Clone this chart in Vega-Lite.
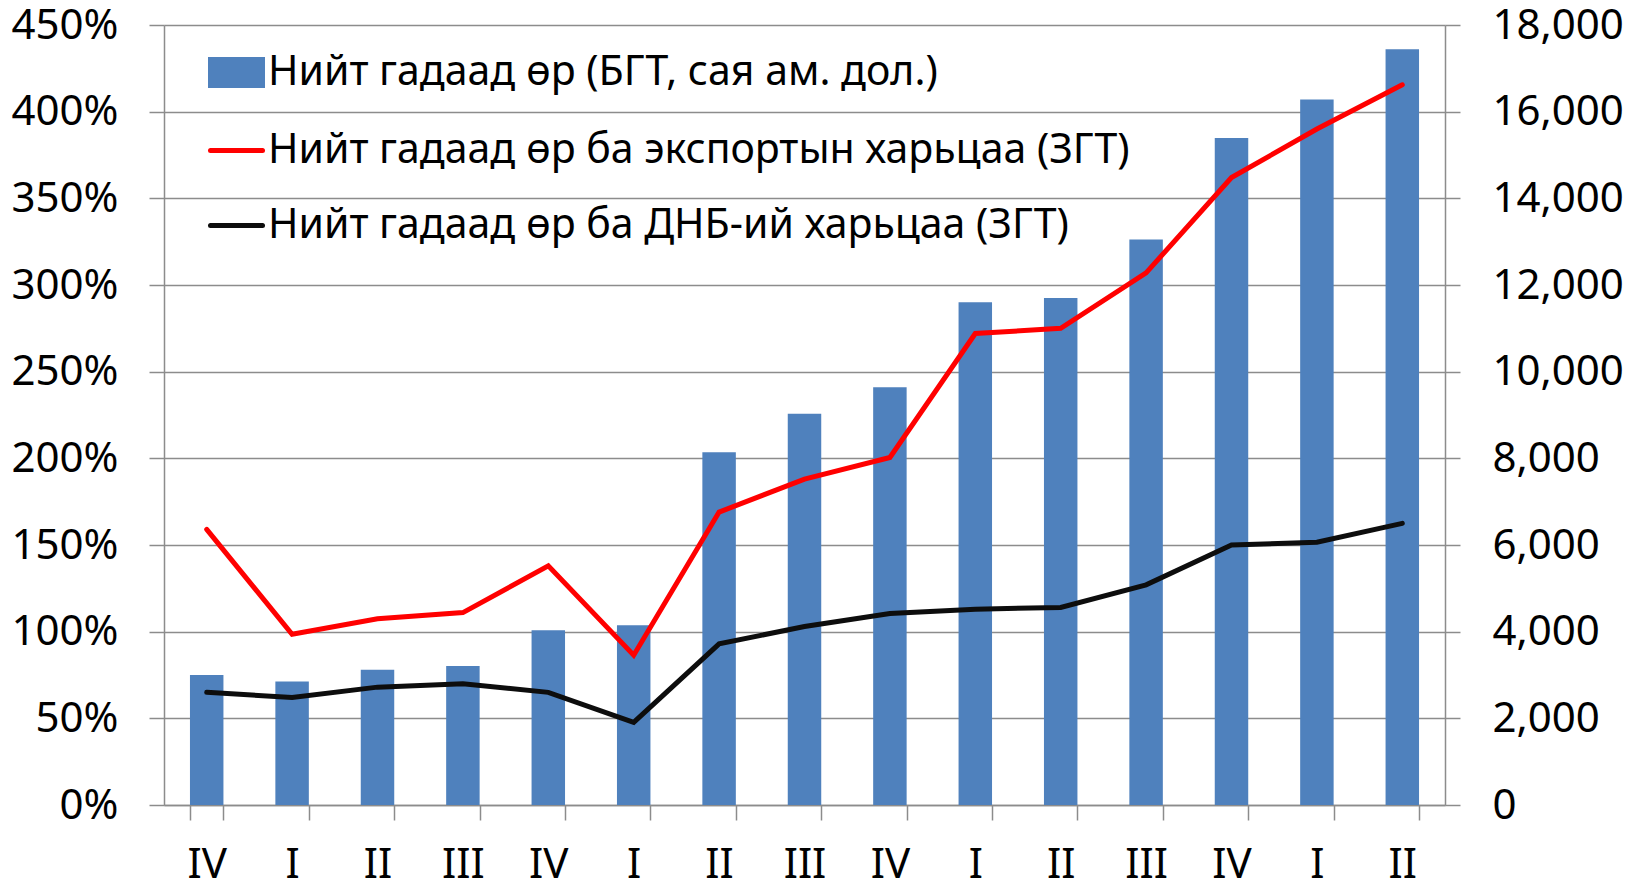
{
  "$schema": "https://vega.github.io/schema/vega-lite/v6.json",
  "width": 1281,
  "height": 780,
  "autosize": {"type": "none"},
  "padding": {"left": 164, "top": 25, "right": 195, "bottom": 82},
  "background": "white",
  "config": {
    "view": {"stroke": null},
    "font": "Noto Sans",
    "axis": {
      "labelFont": "Noto Sans",
      "labelFontSize": 42,
      "labelColor": "#000000",
      "domainColor": "#8c8c8c",
      "domainWidth": 1.5,
      "tickColor": "#8c8c8c",
      "tickWidth": 1.5,
      "tickSize": 15,
      "gridColor": "#8c8c8c",
      "gridWidth": 1.5,
      "title": null
    },
    "legend": {
      "title": null,
      "orient": "none",
      "legendX": 44,
      "legendY": 19,
      "labelFont": "Noto Sans",
      "labelFontSize": 41,
      "labelColor": "#000000",
      "labelOffset": 3,
      "labelLimit": 0,
      "rowPadding": 26,
      "symbolSize": 2704,
      "padding": 0
    }
  },
  "data": {
    "values": [
      {"period": "01 IV", "debt": 3000, "exp": 1.59, "gdp": 0.65},
      {"period": "02 I", "debt": 2850, "exp": 0.985, "gdp": 0.62},
      {"period": "03 II", "debt": 3120, "exp": 1.075, "gdp": 0.68},
      {"period": "04 III", "debt": 3210, "exp": 1.11, "gdp": 0.70},
      {"period": "05 IV", "debt": 4030, "exp": 1.38, "gdp": 0.65},
      {"period": "06 I", "debt": 4150, "exp": 0.864, "gdp": 0.477},
      {"period": "07 II", "debt": 8140, "exp": 1.69, "gdp": 0.93},
      {"period": "08 III", "debt": 9030, "exp": 1.88, "gdp": 1.03},
      {"period": "09 IV", "debt": 9640, "exp": 2.005, "gdp": 1.105},
      {"period": "10 I", "debt": 11600, "exp": 2.72, "gdp": 1.13},
      {"period": "11 II", "debt": 11700, "exp": 2.75, "gdp": 1.14},
      {"period": "12 III", "debt": 13050, "exp": 3.07, "gdp": 1.27},
      {"period": "13 IV", "debt": 15390, "exp": 3.62, "gdp": 1.50},
      {"period": "14 I", "debt": 16280, "exp": 3.90, "gdp": 1.516},
      {"period": "15 II", "debt": 17440, "exp": 4.155, "gdp": 1.625}
    ]
  },
  "encoding": {
    "x": {
      "field": "period",
      "type": "ordinal",
      "sort": null,
      "scale": {"paddingInner": 0.608, "paddingOuter": 0.304},
      "axis": {
        "labelAngle": 0,
        "tickBand": "extent",
        "labelPadding": 24,
        "labelExpr": "split(datum.value, ' ')[1]",
        "grid": false
      }
    }
  },
  "layer": [
    {
      "mark": {"type": "bar", "color": "#4F81BD"},
      "encoding": {
        "y": {
          "field": "debt",
          "type": "quantitative",
          "scale": {"domain": [0, 18000], "nice": false},
          "axis": {
            "orient": "right",
            "values": [0, 2000, 4000, 6000, 8000, 10000, 12000, 14000, 16000, 18000],
            "format": ",d",
            "grid": false,
            "labelPadding": 32
          }
        },
        "color": {
          "datum": "debt",
          "type": "nominal",
          "scale": {
            "domain": ["debt", "exp", "gdp"],
            "range": ["#4F81BD", "#FF0000", "#0d0d0d"]
          },
          "legend": {
            "title": null,
            "labelExpr": "datum.value === 'debt' ? 'Нийт гадаад өр (БГТ, сая ам. дол.)' : datum.value === 'exp' ? 'Нийт гадаад өр ба экспортын харьцаа (ЗГТ)' : 'Нийт гадаад өр ба ДНБ-ий харьцаа (ЗГТ)'",
            "encode": {
              "symbols": {
                "update": {
                  "shape": {"signal": "datum.value === 'debt' ? 'M-1,-0.5H1V0.5H-1Z' : 'M-1,0H1'"},
                  "fill": {"signal": "datum.value === 'debt' ? '#4F81BD' : 'transparent'"},
                  "stroke": {"signal": "datum.value === 'debt' ? 'transparent' : datum.value === 'exp' ? '#FF0000' : '#0d0d0d'"},
                  "strokeWidth": {"value": 5},
                  "strokeCap": {"value": "round"},
                  "opacity": {"value": 1}
                }
              }
            }
          }
        }
      }
    },
    {
      "transform": [{"fold": ["exp", "gdp"], "as": ["key", "value"]}],
      "mark": {"type": "line", "strokeWidth": 5, "strokeCap": "round", "strokeJoin": "miter"},
      "encoding": {
        "y": {
          "field": "value",
          "type": "quantitative",
          "scale": {"domain": [0, 4.5], "nice": false},
          "axis": {
            "orient": "left",
            "values": [0, 0.5, 1, 1.5, 2, 2.5, 3, 3.5, 4, 4.5],
            "format": ".0%",
            "grid": true,
            "labelPadding": 31
          }
        },
        "color": {
          "field": "key",
          "type": "nominal",
          "legend": {
            "title": null,
            "labelExpr": "datum.value === 'debt' ? 'Нийт гадаад өр (БГТ, сая ам. дол.)' : datum.value === 'exp' ? 'Нийт гадаад өр ба экспортын харьцаа (ЗГТ)' : 'Нийт гадаад өр ба ДНБ-ий харьцаа (ЗГТ)'",
            "encode": {
              "symbols": {
                "update": {
                  "shape": {"signal": "datum.value === 'debt' ? 'M-1,-0.5H1V0.5H-1Z' : 'M-1,0H1'"},
                  "fill": {"signal": "datum.value === 'debt' ? '#4F81BD' : 'transparent'"},
                  "stroke": {"signal": "datum.value === 'debt' ? 'transparent' : datum.value === 'exp' ? '#FF0000' : '#0d0d0d'"},
                  "strokeWidth": {"value": 5},
                  "strokeCap": {"value": "round"},
                  "opacity": {"value": 1}
                }
              }
            }
          }
        }
      }
    }
  ],
  "resolve": {"scale": {"y": "independent"}}
}
